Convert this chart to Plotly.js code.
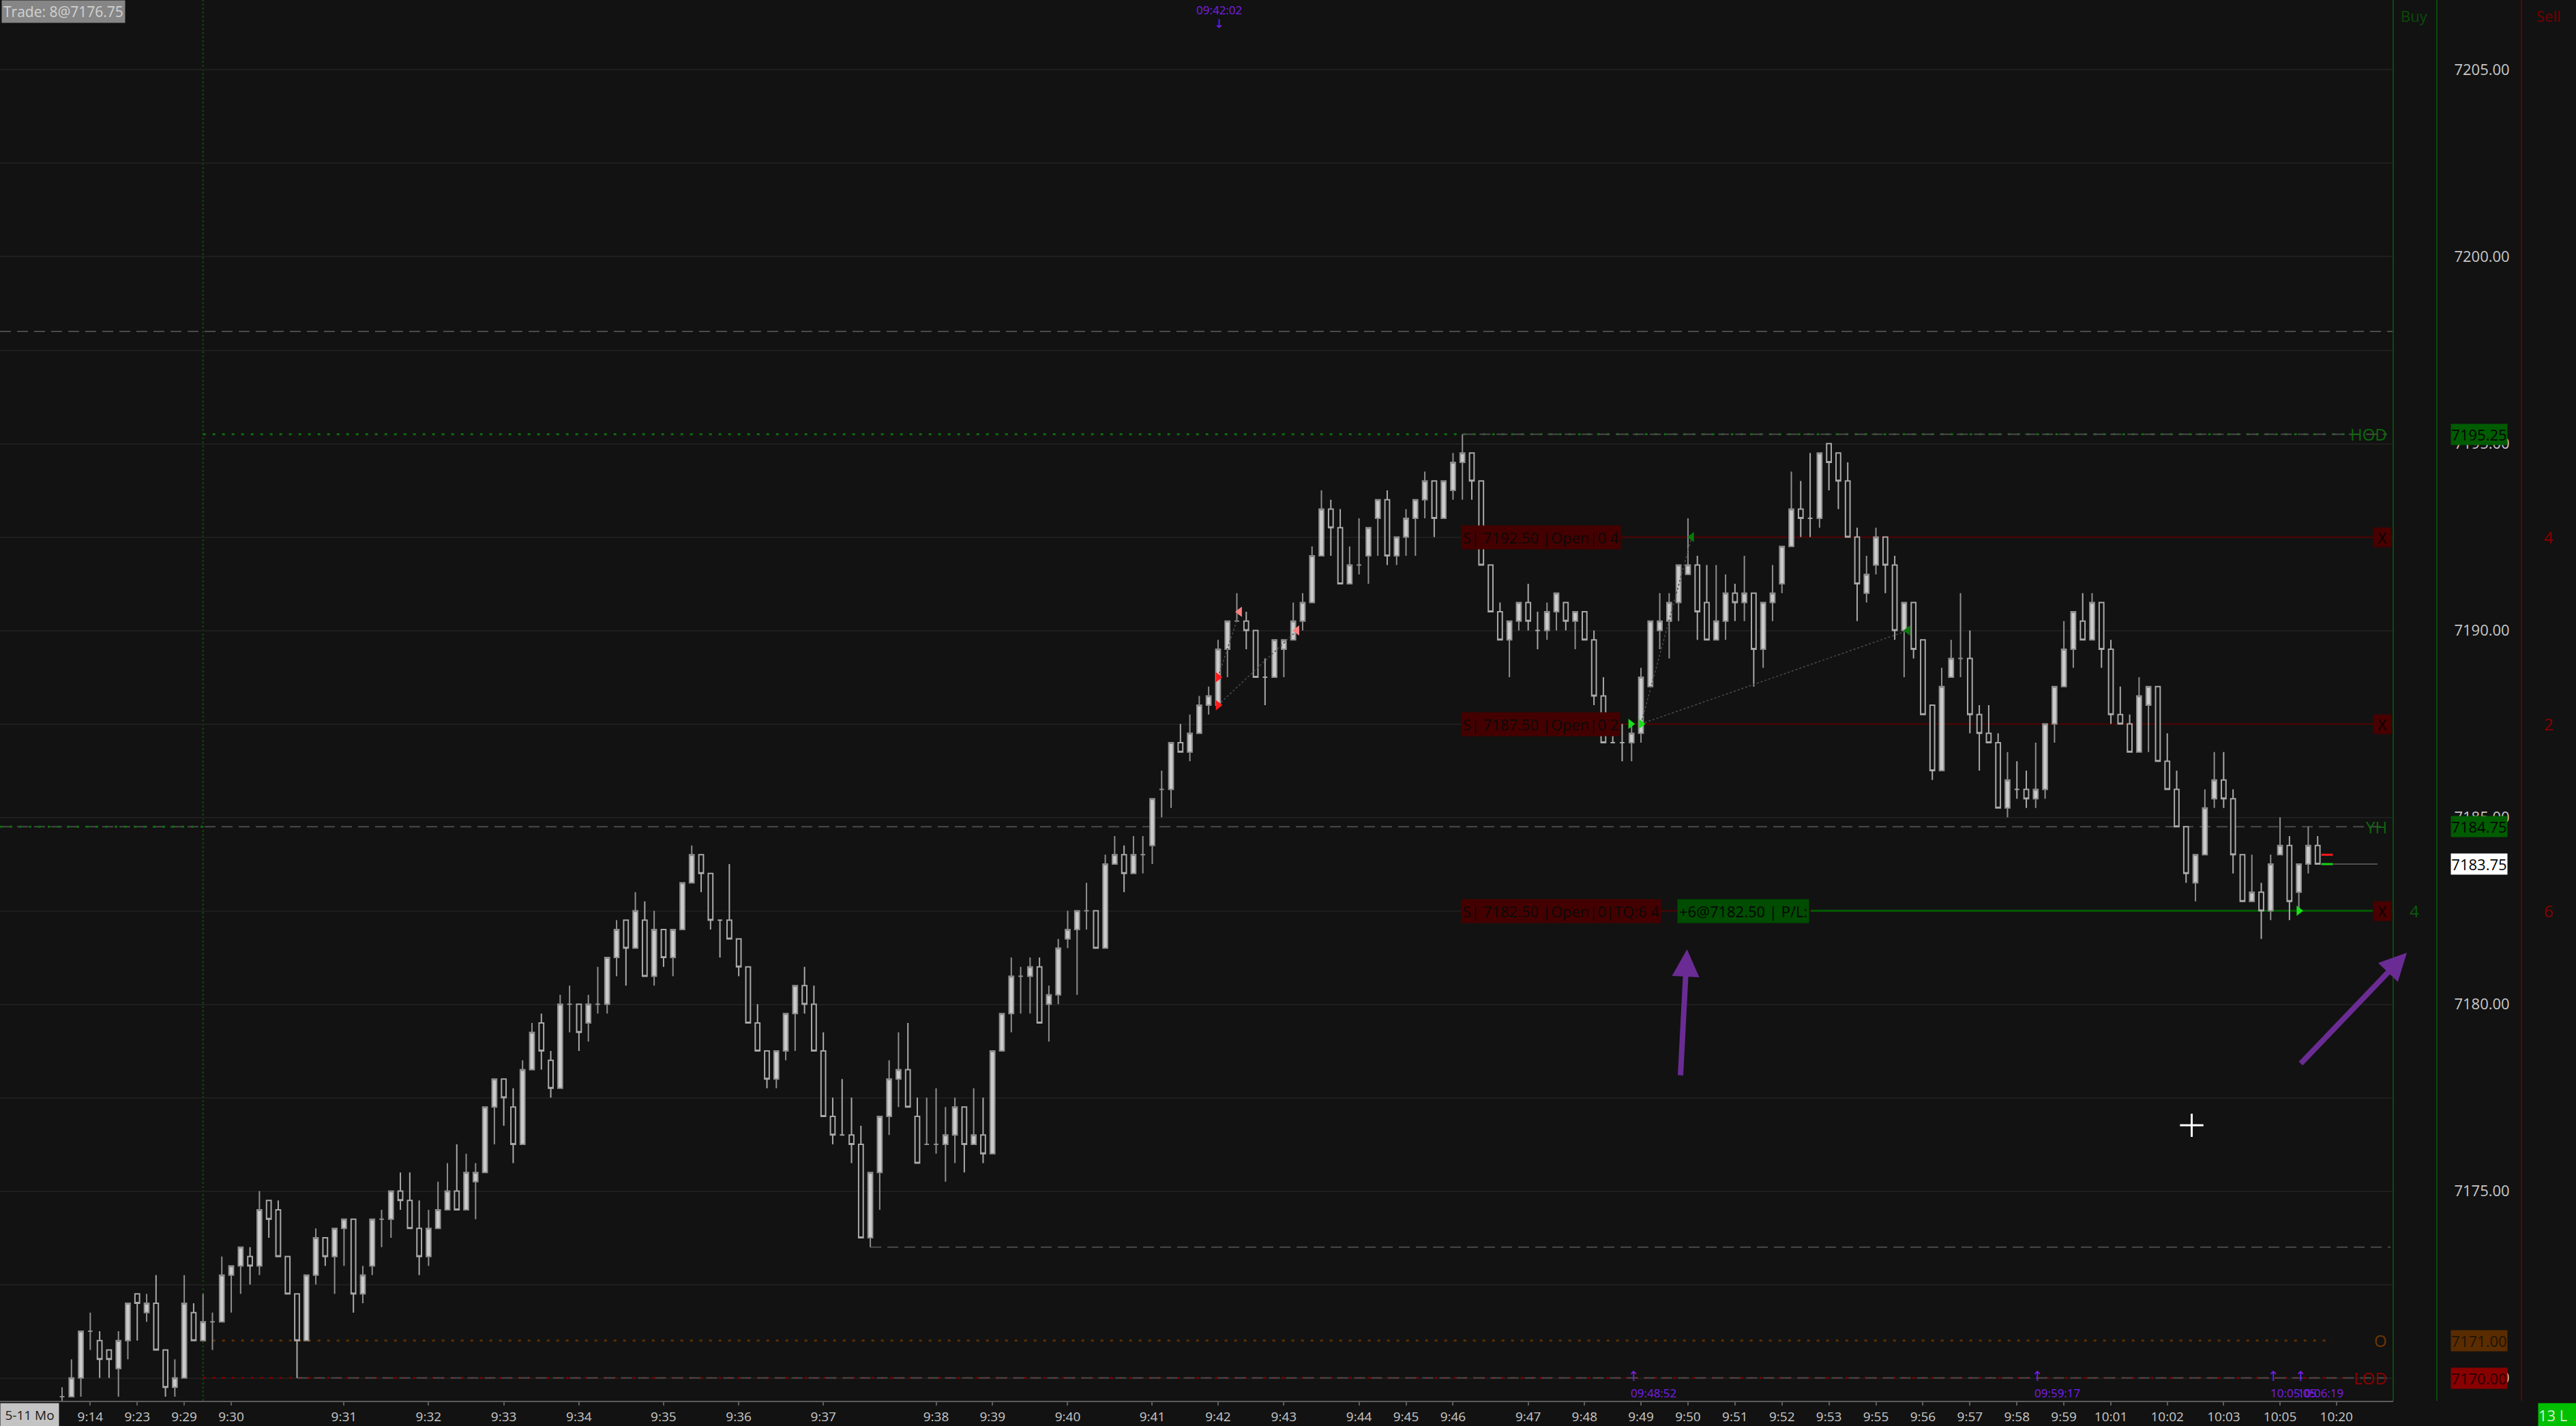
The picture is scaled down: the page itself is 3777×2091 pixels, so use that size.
<!DOCTYPE html>
<html><head><meta charset="utf-8">
<script src="https://cdn.plot.ly/plotly-3.0.1.min.js"></script>
<style>html,body{margin:0;padding:0;background:#121212;overflow:hidden}#chart{width:3777px;height:2091px;}</style>
</head><body><div id="chart"></div>
<script>
// ---- candle data (one bar per index) ----
const openP = [7169.5,7169.5,7170.0,7171.25,7171.0,7170.75,7170.25,7171.0,7172.25,7171.75,
7172.0,7170.75,7169.75,7170.0,7171.75,7171.0,7171.5,7171.5,7172.75,7173.0,
7173.25,7173.0,7174.75,7174.5,7173.25,7172.25,7171.0,7172.75,7173.75,7173.25,
7174.0,7174.25,7172.25,7173.0,7174.25,7174.25,7175.0,7174.75,7174.0,7173.25,
7174.0,7174.5,7175.0,7174.5,7175.25,7175.5,7177.25,7178.0,7177.25,7176.25,
7178.25,7179.5,7178.5,7177.75,7180.0,7180.0,7179.5,7180.0,7180.0,7181.25,
7182.25,7181.5,7182.25,7180.75,7182.0,7181.25,7182.0,7183.25,7184.0,7183.5,
7182.25,7182.25,7181.75,7181.0,7179.5,7178.75,7178.0,7178.75,7179.75,7180.5,
7180.0,7178.75,7177.0,7176.5,7176.5,7176.25,7173.75,7175.5,7177.0,7178.0,
7178.25,7177.0,7176.25,7176.25,7176.25,7176.5,7177.25,7176.25,7176.5,7176.0,
7178.75,7179.75,7180.75,7180.75,7181.0,7180.0,7180.25,7181.75,7182.0,7182.5,
7182.5,7181.5,7183.75,7184.0,7183.5,7184.0,7184.25,7185.75,7185.75,7187.0,
7186.75,7187.25,7188.0,7188.0,7189.5,7190.25,7190.25,7190.0,7188.75,7188.75,
7189.5,7189.75,7190.25,7190.75,7192.0,7193.25,7192.75,7191.25,7191.75,7192.0,
7193.0,7193.5,7192.0,7192.5,7193.0,7193.5,7194.0,7193.0,7193.75,7194.5,
7194.75,7194.0,7191.75,7190.5,7189.75,7190.25,7190.75,7190.0,7190.0,7190.5,
7190.75,7190.25,7190.5,7189.75,7188.25,7187.0,7187.0,7187.0,7187.25,7188.5,
7190.0,7190.25,7190.75,7191.5,7191.75,7190.75,7189.75,7190.25,7191.0,7190.75,
7191.0,7189.5,7190.75,7191.25,7192.25,7193.25,7193.0,7193.0,7195.0,7194.75,
7194.0,7192.5,7191.0,7191.75,7192.5,7191.75,7190.0,7190.75,7189.75,7188.0,
7186.25,7188.75,7189.25,7189.25,7187.75,7187.25,7187.0,7185.25,7185.75,7185.75,
7185.5,7185.75,7187.5,7188.5,7189.5,7190.25,7189.75,7190.75,7189.5,7187.75,
7187.5,7186.75,7188.0,7188.5,7186.5,7185.75,7184.75,7183.25,7184.0,7185.5,
7186.0,7185.5,7184.0,7182.75,7183.0,7182.5,7184.0,7184.25,7183.0,7183.75,
7184.25];
const highP = [7169.75,7170.5,7171.25,7171.75,7171.25,7170.75,7171.25,7172.0,7172.25,7172.25,
7172.75,7170.75,7170.5,7172.75,7172.0,7172.25,7171.75,7173.25,7173.0,7173.5,
7173.5,7175.0,7174.75,7174.75,7173.25,7172.25,7172.75,7174.0,7173.75,7174.0,
7174.25,7174.25,7173.0,7174.25,7174.5,7175.0,7175.5,7175.5,7174.75,7174.5,
7175.25,7175.75,7176.25,7176.0,7175.75,7177.25,7178.0,7178.0,7177.75,7178.5,
7179.5,7179.75,7178.75,7180.25,7180.5,7180.0,7180.25,7181.0,7181.25,7182.25,
7182.25,7183.0,7182.75,7182.5,7182.0,7182.0,7183.25,7184.25,7184.0,7183.5,
7182.25,7183.75,7181.75,7181.0,7180.0,7178.75,7178.75,7179.75,7180.5,7181.0,
7180.5,7179.25,7177.5,7178.0,7177.5,7176.75,7175.5,7177.0,7178.5,7179.25,
7179.5,7177.5,7177.5,7177.75,7177.25,7177.5,7177.25,7177.75,7177.5,7178.75,
7179.75,7181.25,7181.0,7181.25,7181.25,7180.5,7181.75,7182.5,7182.5,7183.25,
7182.5,7184.0,7184.5,7184.25,7184.5,7184.5,7185.5,7186.25,7187.0,7187.5,
7187.75,7188.25,7188.5,7189.75,7190.25,7191.0,7190.5,7190.0,7189.25,7189.75,
7189.75,7190.75,7191.0,7192.25,7193.75,7193.5,7193.25,7192.25,7193.0,7192.75,
7193.5,7193.75,7192.5,7193.25,7193.5,7194.25,7194.0,7194.0,7194.75,7195.25,
7194.75,7194.0,7191.75,7190.75,7190.25,7190.75,7191.25,7190.5,7190.75,7191.0,
7190.75,7190.5,7190.5,7190.0,7188.75,7187.25,7187.5,7187.5,7189.0,7190.25,
7191.0,7191.0,7191.75,7193.0,7192.0,7191.75,7191.75,7191.5,7191.25,7192.0,
7191.0,7190.75,7191.75,7192.25,7194.25,7194.0,7194.75,7194.75,7195.0,7194.75,
7194.5,7192.75,7192.0,7192.75,7192.5,7192.0,7190.75,7190.75,7189.75,7188.0,
7189.0,7189.75,7191.0,7190.0,7188.0,7188.0,7187.25,7186.75,7186.5,7186.25,
7187.0,7187.5,7188.5,7190.25,7190.5,7191.0,7191.0,7190.75,7189.75,7188.5,
7187.75,7188.75,7188.5,7188.5,7187.25,7186.25,7184.75,7184.0,7185.75,7186.75,
7186.75,7185.75,7184.0,7184.0,7183.25,7184.0,7185.0,7184.5,7183.75,7184.75,
7184.5];
const lowP = [7169.25,7169.5,7169.5,7170.75,7170.0,7170.0,7169.5,7170.5,7171.0,7171.5,
7170.75,7169.5,7169.5,7170.0,7171.0,7171.0,7170.75,7171.5,7171.75,7172.25,
7172.5,7172.75,7173.75,7173.25,7172.25,7170.0,7171.0,7172.5,7173.0,7172.25,
7173.0,7171.75,7172.0,7172.75,7173.5,7173.75,7174.5,7174.0,7172.75,7173.0,
7174.0,7174.5,7174.5,7174.5,7174.25,7175.5,7176.25,7176.75,7175.75,7176.25,
7178.25,7178.25,7177.5,7177.75,7179.25,7178.75,7179.0,7179.75,7179.75,7180.75,
7180.5,7181.5,7180.75,7180.5,7181.0,7180.75,7182.0,7183.25,7183.0,7182.0,
7181.25,7181.75,7180.75,7179.5,7178.75,7177.75,7177.75,7178.5,7178.75,7179.75,
7178.75,7177.0,7176.25,7176.5,7175.75,7173.75,7173.5,7174.5,7176.5,7177.25,
7177.25,7175.75,7176.25,7176.0,7175.25,7175.75,7175.5,7176.25,7175.75,7176.0,
7178.75,7179.25,7179.75,7179.75,7179.5,7179.0,7180.0,7181.5,7180.25,7182.0,
7181.5,7181.5,7183.75,7183.0,7183.5,7183.5,7183.75,7185.0,7185.25,7186.75,
7186.5,7187.25,7187.75,7188.0,7188.75,7190.25,7189.5,7188.75,7188.0,7188.75,
7188.75,7189.75,7190.0,7190.75,7192.0,7192.0,7191.25,7191.25,7191.5,7191.25,
7192.0,7191.75,7191.75,7192.0,7192.0,7193.0,7192.5,7193.0,7193.5,7193.5,
7193.5,7191.75,7190.5,7189.75,7188.75,7190.0,7190.0,7189.5,7189.75,7190.0,
7190.0,7189.5,7189.75,7188.0,7187.0,7187.0,7186.5,7186.5,7187.0,7188.5,
7189.5,7189.25,7190.25,7191.5,7189.75,7189.75,7189.75,7189.75,7190.25,7190.25,
7188.5,7189.0,7190.25,7191.0,7192.25,7192.5,7192.5,7192.75,7193.75,7193.25,
7192.5,7190.25,7190.75,7191.5,7191.0,7189.75,7188.75,7189.25,7187.75,7186.0,
7186.25,7188.75,7188.75,7187.25,7186.25,7187.0,7185.25,7185.0,7185.5,7185.25,
7185.25,7185.5,7187.0,7188.5,7189.0,7189.75,7189.75,7189.0,7187.5,7187.5,
7186.75,7186.75,7186.75,7186.5,7185.75,7184.75,7183.25,7182.75,7184.0,7185.25,
7185.25,7183.5,7182.75,7182.75,7181.75,7182.25,7184.0,7182.25,7182.5,7183.5,
7183.75];
const closeP = [7169.5,7170.0,7171.25,7171.25,7170.5,7170.5,7171.0,7172.0,7172.0,7172.0,
7170.75,7169.75,7170.0,7172.0,7171.0,7171.5,7171.5,7172.75,7173.0,7173.5,
7173.0,7174.5,7174.25,7173.25,7172.25,7171.0,7172.75,7173.75,7173.25,7174.0,
7174.25,7172.25,7172.75,7174.25,7174.25,7175.0,7174.75,7174.0,7173.25,7174.0,
7174.5,7175.0,7174.5,7175.5,7175.5,7177.25,7178.0,7177.5,7176.25,7178.25,
7179.25,7178.75,7177.75,7180.0,7180.0,7179.25,7180.0,7180.0,7181.25,7182.0,
7181.5,7182.5,7180.75,7182.0,7181.25,7182.0,7183.25,7184.0,7183.5,7182.25,
7182.25,7181.75,7181.0,7179.5,7178.75,7178.0,7178.75,7179.75,7180.5,7180.0,
7178.75,7177.0,7176.5,7176.5,7176.25,7173.75,7175.5,7177.0,7178.0,7178.25,
7177.25,7175.75,7176.25,7176.25,7176.5,7177.25,7176.25,7176.5,7176.0,7178.75,
7179.75,7180.75,7180.75,7181.0,7179.5,7180.25,7181.5,7182.0,7182.5,7182.5,
7181.5,7183.75,7184.0,7183.5,7184.0,7184.0,7185.5,7185.75,7187.0,7186.75,
7187.25,7188.0,7188.25,7189.5,7190.25,7190.25,7190.0,7188.75,7188.75,7189.75,
7189.75,7190.25,7190.75,7192.0,7193.25,7192.75,7191.25,7191.75,7191.75,7192.75,
7193.5,7192.0,7192.5,7193.0,7193.5,7194.0,7193.0,7194.0,7194.5,7194.75,
7194.0,7191.75,7190.5,7189.75,7190.25,7190.75,7190.25,7190.0,7190.5,7191.0,
7190.25,7190.5,7189.75,7188.25,7187.0,7187.0,7187.0,7187.25,7188.75,7190.25,
7190.25,7190.75,7191.75,7191.75,7190.5,7189.75,7190.25,7191.0,7190.75,7191.0,
7189.5,7190.75,7191.0,7192.25,7193.25,7193.0,7193.0,7194.75,7194.5,7194.0,
7192.5,7191.25,7191.5,7192.5,7191.75,7190.0,7190.75,7189.5,7187.75,7186.25,
7188.5,7189.25,7189.25,7187.75,7187.25,7187.0,7185.25,7186.0,7185.75,7185.5,
7185.75,7187.5,7188.5,7189.5,7190.5,7189.75,7190.75,7189.5,7187.75,7187.5,
7186.75,7188.25,7188.5,7186.5,7185.75,7184.75,7183.5,7184.0,7185.25,7186.0,
7185.5,7184.0,7182.75,7183.0,7182.5,7183.75,7184.25,7182.75,7183.75,7184.25,
7183.75];

// ---- time axis ----
const tickIdx  = [3,8,13,18,30,39,47,55,64,72,81,93,99,107,116,123,130,138,143,148,156,162,168,173,178,183,188,193,198,203,208,213,218,224,230,236,242];
const tickText = ['9:14','9:23','9:29','9:30','9:31','9:32','9:33','9:34','9:35','9:36','9:37','9:38','9:39','9:40','9:41','9:42','9:43','9:44','9:45','9:46','9:47','9:48','9:49','9:50','9:51','9:52','9:53','9:55','9:56','9:57','9:58','9:59','10:01','10:02','10:03','10:05','10:20'];

// ---- price axis ----
const priceTicks = [7170,7172.5,7175,7177.5,7180,7182.5,7185,7187.5,7190,7192.5,7195,7197.5,7200,7202.5,7205];
const priceTickText = ['7170.00','','7175.00','','7180.00','','7185.00','','7190.00','','7195.00','','7200.00','','7205.00'];

// ---- key levels ----
const levelNames  = ['HOD','YH','O','LOD'];
const levelPrices = [7195.25, 7184.75, 7171.00, 7170.00];
const levelColors = ['#0b6a0b','#0b6a0b','#6e3800','#8a0000'];
const sessionStartIdx = 15;
const hodIdx = 149, lodIdx = 25, swingLowIdx = 86;
const swingLowPrice = 7173.5;
const upperRefPrice = 7198.0;
const lastPrice = 7183.75, askPrice = 7184.0;

// ---- orders ----
const orderPrices = [7192.5, 7187.5, 7182.5];
const orderLabels = ['S| 7192.50 |Open|0 4','S| 7187.50 |Open|0 2','S| 7182.50 |Open|0|TQ:6 4'];
const sellQty = ['4','2','6'];
const buyQty = ['','','4'];
const posLabel = '+6@7182.50 | P/L:';

// ---- price tags on axis ----
const tagPrices = [7195.25, 7184.75, 7183.75, 7171.00, 7170.00];
const tagBg     = ['#005c00','#005c00','#ffffff','#5a2c00','#880000'];
const tagFg     = ['#050505','#050505','#000000','#1e1408','#2a0000'];

// ---- fills / executions ----
const fillIdx   = [123, 123, 125.3, 131.4, 166.9, 168.0, 173.4, 196.4, 238.0];
const fillPrice = [7188.75, 7188.0, 7190.5, 7190.0, 7187.5, 7187.5, 7192.5, 7190.0, 7182.5];
const fillSym   = ['triangle-right','triangle-right','triangle-left','triangle-left','triangle-right','triangle-right','triangle-left','triangle-left','triangle-right'];
const fillCol   = ['#ff1a1a','#ff1a1a','#ff8080','#ff8080','#18e018','#18e018','#0a7a0a','#0a7a0a','#18e018'];
const linkFrom  = [0, 1, 5, 5];
const linkTo    = [2, 3, 6, 7];

// ---- time markers ----
const markIdx   = [167.2, 210.2, 235.3, 238.2];
const markText  = ['09:48:52','09:59:17','10:05:05','10:06:19'];
const topMarkIdx = 123.1, topMarkText = '09:42:02';

// ---- drawn arrows & cursor ----
const arrow1 = {tipIdx:172.9, tipPrice:7181.47, tailIdx:172.2, tailPrice:7178.07};
const cursorIdx = 226.6, cursorPrice = 7176.76;

// ================= layout geometry =================
const W = 3509, H = 2054;             // plot area in px
const px = v => v / W;                // px -> paper x
const py = v => (H - v) / H;          // px -> paper y
const idx = openP.map((_, i) => i);

const traces = [];
traces.push({
  type:'candlestick', x: idx, open: openP, high: highP, low: lowP, close: closeP,
  increasing:{line:{color:'#8e8e8e', width:2}, fillcolor:'#cacaca'},
  decreasing:{line:{color:'#a9a9a9', width:2}, fillcolor:'#121212'},
  whiskerwidth:0, hoverinfo:'skip', showlegend:false
});

// links between fills
const lx = [], ly = [];
linkFrom.forEach((f, k) => { lx.push(fillIdx[f], fillIdx[linkTo[k]], null); ly.push(fillPrice[f], fillPrice[linkTo[k]], null); });
traces.push({type:'scatter', mode:'lines', x:lx, y:ly, line:{color:'#4c4c4c', width:1.5, dash:'dot'}, hoverinfo:'skip', showlegend:false});
traces.push({type:'scatter', mode:'markers', x:fillIdx, y:fillPrice,
  marker:{symbol:fillSym, color:fillCol, size:13, line:{width:0}}, hoverinfo:'skip', showlegend:false});
// bid/ask ticks beside last bar
traces.push({type:'scatter', mode:'markers', x:[idx.length, idx.length], y:[askPrice, lastPrice],
  marker:{symbol:'line-ew', size:12, line:{width:3, color:['#ff1a1a','#18d018']}}, hoverinfo:'skip', showlegend:false, cliponaxis:false});

const shapes = [];
const pline = (p0, p1, y, color, width, dash) => shapes.push({type:'line', xref:'paper', yref:'y', x0:p0, x1:p1, y0:y, y1:y, line:{color, width, dash}, layer:'between'});

// upper dashed reference
pline(0, 1, upperRefPrice, '#4a4a4a', 2, '16px,9px');
// YH
pline(0, 0.997, levelPrices[1], '#4a4a4a', 2, '16px,9px');
shapes.push({type:'line', xref:'x', yref:'y', x0:-6.6, x1:sessionStartIdx, y0:levelPrices[1], y1:levelPrices[1], line:{color:'#0d6d0d', width:3, dash:'4px,10px'}, layer:'between'});
// HOD
shapes.push({type:'line', xref:'x', yref:'y', x0:sessionStartIdx, x1:(3440-91)/13.78, y0:levelPrices[0], y1:levelPrices[0], line:{color:'#0d6d0d', width:3, dash:'4px,10px'}, layer:'between'});
shapes.push({type:'line', xref:'x', yref:'y', x0:hodIdx, x1:(3500-91)/13.78, y0:levelPrices[0], y1:levelPrices[0], line:{color:'#4a4a4a', width:2, dash:'16px,9px'}, layer:'between'});
// Open
shapes.push({type:'line', xref:'x', yref:'y', x0:sessionStartIdx, x1:(3420-91)/13.78, y0:levelPrices[2], y1:levelPrices[2], line:{color:'#5e3000', width:3, dash:'4px,10px'}, layer:'between'});
// LOD
shapes.push({type:'line', xref:'x', yref:'y', x0:sessionStartIdx, x1:(3440-91)/13.78, y0:levelPrices[3], y1:levelPrices[3], line:{color:'#7a0000', width:3, dash:'4px,10px'}, layer:'between'});
shapes.push({type:'line', xref:'x', yref:'y', x0:lodIdx, x1:(3500-91)/13.78, y0:levelPrices[3], y1:levelPrices[3], line:{color:'#4a4a4a', width:2, dash:'16px,9px'}, layer:'between'});
// swing low
shapes.push({type:'line', xref:'x', yref:'y', x0:swingLowIdx, x1:(3505-91)/13.78, y0:swingLowPrice, y1:swingLowPrice, line:{color:'#4a4a4a', width:2, dash:'16px,9px'}, layer:'between'});
// session start vertical
shapes.push({type:'line', xref:'x', yref:'paper', x0:sessionStartIdx, x1:sessionStartIdx, y0:0, y1:1, line:{color:'#0c4a0c', width:2, dash:'3px,3px'}, layer:'between'});
// order lines
const lblIdx = (2142-91)/13.78, xboxIdx = (3479-91)/13.78;
shapes.push({type:'line', xref:'x', yref:'y', x0:lblIdx, x1:xboxIdx, y0:orderPrices[0], y1:orderPrices[0], line:{color:'#4f0000', width:2}, layer:'between'});
shapes.push({type:'line', xref:'x', yref:'y', x0:lblIdx, x1:xboxIdx, y0:orderPrices[1], y1:orderPrices[1], line:{color:'#4f0000', width:2}, layer:'between'});
shapes.push({type:'line', xref:'x', yref:'y', x0:lblIdx, x1:(2660-91)/13.78, y0:orderPrices[2], y1:orderPrices[2], line:{color:'#4f0000', width:2}, layer:'between'});
shapes.push({type:'line', xref:'x', yref:'y', x0:(2655-91)/13.78, x1:xboxIdx, y0:orderPrices[2], y1:orderPrices[2], line:{color:'#005800', width:3}, layer:'between'});
// last price line
shapes.push({type:'line', xref:'x', yref:'y', x0:idx.length - 0.4, x1:(3486-91)/13.78, y0:lastPrice, y1:lastPrice, line:{color:'#505050', width:2}, layer:'between'});
// column separators
shapes.push({type:'line', xref:'paper', yref:'paper', x0:1, x1:1, y0:0, y1:1, line:{color:'#0b4a0b', width:2}});
shapes.push({type:'line', xref:'paper', yref:'paper', x0:px(3573), x1:px(3573), y0:0, y1:1, line:{color:'#0b4a0b', width:2}});
shapes.push({type:'line', xref:'paper', yref:'paper', x0:px(3697), x1:px(3697), y0:0, y1:1, line:{color:'#6a0000', width:2}});
// cursor crosshair
shapes.push({type:'line', xref:'x', yref:'y', x0:cursorIdx-1.25, x1:cursorIdx+1.25, y0:cursorPrice, y1:cursorPrice, line:{color:'#ffffff', width:3}, layer:'above'});
shapes.push({type:'line', xref:'x', yref:'y', x0:cursorIdx, x1:cursorIdx, y0:cursorPrice-0.31, y1:cursorPrice+0.31, line:{color:'#ffffff', width:3}, layer:'above'});

const F = 'Open Sans, Noto Sans, sans-serif';
const ann = [];
// level labels
levelNames.forEach((n, i) => ann.push({xref:'paper', x:px(3502), xanchor:'right', yref:'y', y:levelPrices[i], yanchor:'middle',
  text:n, showarrow:false, font:{family:F, size:24, color:levelColors[i]}}));
// order labels
orderLabels.forEach((t, i) => ann.push({xref:'x', x:lblIdx, xanchor:'left', yref:'y', y:orderPrices[i], yanchor:'middle',
  text:t, showarrow:false, bgcolor:'#440000', borderpad:2, font:{family:F, size:22, color:'#0a0a0a'}}));
ann.push({xref:'x', x:(2459-91)/13.78, xanchor:'left', yref:'y', y:orderPrices[2], yanchor:'middle',
  text:posLabel, showarrow:false, bgcolor:'#004c00', borderpad:2, font:{family:F, size:22, color:'#050505'}});
// X boxes and quantities
orderPrices.forEach((p, i) => {
  ann.push({xref:'paper', x:px(3507), xanchor:'right', yref:'y', y:p, yanchor:'middle', text:'X', showarrow:false,
    bgcolor:'#480000', width:26, height:28, borderpad:0, font:{family:F, size:22, color:'#050505'}});
  ann.push({xref:'paper', x:px(3737), xanchor:'center', yref:'y', y:p, yanchor:'middle', text:sellQty[i], showarrow:false,
    font:{family:F, size:24, color:'#880000'}});
  if (buyQty[i]) ann.push({xref:'paper', x:px(3540), xanchor:'center', yref:'y', y:p, yanchor:'middle', text:buyQty[i], showarrow:false,
    font:{family:F, size:24, color:'#0b5a0b'}});
});
ann.push({xref:'paper', x:px(3540), xanchor:'center', yref:'paper', y:py(23), yanchor:'middle', text:'Buy', showarrow:false, font:{family:F, size:22, color:'#0a4a0a'}});
ann.push({xref:'paper', x:px(3737), xanchor:'center', yref:'paper', y:py(23), yanchor:'middle', text:'Sell', showarrow:false, font:{family:F, size:22, color:'#780000'}});
// price tags
tagPrices.forEach((p, i) => ann.push({xref:'paper', x:px(3593), xanchor:'left', yref:'y', y:p, yanchor:'middle',
  text:p.toFixed(2), showarrow:false, bgcolor:tagBg[i], width:80, height:28, borderpad:1, font:{family:F, size:22, color:tagFg[i]}}));
// top-left trade box
ann.push({xref:'paper', x:px(2), xanchor:'left', yref:'paper', y:1, yanchor:'top', text:'Trade: 8@7176.75', showarrow:false,
  bgcolor:'#868686', borderpad:2, font:{family:F, size:21, color:'#d2d2d2'}});
// date box & bottom right
ann.push({xref:'paper', x:0, xanchor:'left', yref:'paper', y:py(2074), yanchor:'middle', text:'5-11 Mo', showarrow:false,
  bgcolor:'#c4c4c4', width:85, height:33, borderpad:0, font:{family:F, size:19, color:'#1a1a1a'}});
ann.push({xref:'paper', x:px(3721), xanchor:'left', yref:'paper', y:py(2074), yanchor:'middle', text:'13 L', showarrow:false,
  bgcolor:'#00c000', width:70, height:33, borderpad:0, align:'left', font:{family:F, size:22, color:'#d8f0d8'}});
// time markers
markIdx.forEach((m, i) => {
  ann.push({xref:'x', x:m, xanchor:'center', yref:'paper', y:py(2018), yanchor:'middle', text:'↑', showarrow:false, font:{family:'DejaVu Sans', size:20, color:'#7a1ee8'}});
  ann.push({xref:'x', x:m - 0.45, xanchor:'left', yref:'paper', y:py(2042), yanchor:'middle', text:markText[i], showarrow:false, font:{family:F, size:17, color:'#7a1ee8'}});
});
ann.push({xref:'x', x:topMarkIdx, xanchor:'center', yref:'paper', y:py(14), yanchor:'middle', text:topMarkText, showarrow:false, font:{family:F, size:17, color:'#7a1ee8'}});
ann.push({xref:'x', x:topMarkIdx, xanchor:'center', yref:'paper', y:py(34), yanchor:'middle', text:'↓', showarrow:false, font:{family:'DejaVu Sans', size:18, color:'#7a1ee8'}});
// hand-drawn purple arrows
ann.push({xref:'x', yref:'y', x:arrow1.tipIdx, y:arrow1.tipPrice, axref:'x', ayref:'y', ax:arrow1.tailIdx, ay:arrow1.tailPrice,
  text:'', showarrow:true, arrowhead:2, arrowsize:1, arrowwidth:8, arrowcolor:'#6a2c94'});
ann.push({xref:'paper', yref:'paper', x:px(3529), y:py(1397), ax:-157, ay:164,
  text:'', showarrow:true, arrowhead:2, arrowsize:1, arrowwidth:8, arrowcolor:'#6a2c94'});

const layout = {
  width:3777, height:2091,
  margin:{l:0, r:3777-W, t:0, b:2091-H, pad:0},
  paper_bgcolor:'#121212', plot_bgcolor:'#121212',
  showlegend:false, hovermode:false, dragmode:false,
  xaxis:{range:[-91/13.78, (W-91)/13.78], rangeslider:{visible:false}, showgrid:false, zeroline:false,
    tickmode:'array', tickvals:tickIdx, ticktext:tickText, ticks:'outside', ticklen:5, tickcolor:'#5c5c5c', tickwidth:2,
    showline:true, linecolor:'#5c5c5c', linewidth:2, tickfont:{family:F, size:19, color:'#c8c8c8'}, fixedrange:true},
  yaxis:{range:[7169.39, 7206.87], side:'right', showgrid:true, gridcolor:'#1e1e1e', gridwidth:2, zeroline:false,
    tickmode:'array', tickvals:priceTicks, ticktext:priceTickText, ticks:'outside', ticklen:84, tickcolor:'rgba(0,0,0,0)',
    showline:false, tickfont:{family:F, size:22, color:'#c8c8c8'}, fixedrange:true},
  shapes, annotations:ann
};
Plotly.newPlot('chart', traces, layout, {staticPlot:true, displayModeBar:false});
</script>
</body></html>
